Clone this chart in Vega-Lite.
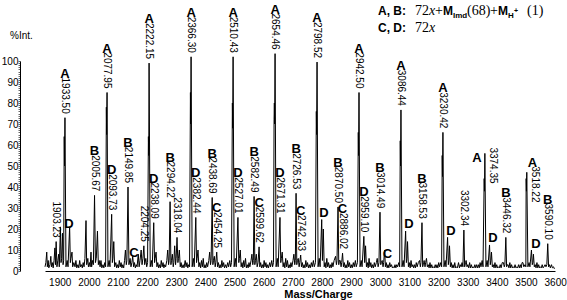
{
"$schema":"https://vega.github.io/schema/vega-lite/v6.json",
"width":510,"height":210,
"autosize":{"type":"none"},
"padding":{"left":45,"top":61,"right":12,"bottom":29},
"background":"white",
"config":{"view":{"stroke":null},"font":"Liberation Sans"},
"datasets":{
"spec":[
{"m":1865,"i":2},{"m":1868,"i":4},{"m":1871,"i":9},{"m":1873,"i":2},{"m":1876,"i":5},{"m":1878,"i":1.5},{"m":1882,"i":3},{"m":1885,"i":7},{"m":1887,"i":2},{"m":1890,"i":4},{"m":1893,"i":1.5},{"m":1896,"i":5},{"m":1899,"i":11},{"m":1901,"i":3},{"m":1903.23,"i":14},{"m":1906,"i":2},{"m":1909,"i":5},{"m":1912,"i":8},{"m":1914,"i":2},{"m":1918,"i":21},{"m":1920,"i":4},{"m":1922,"i":6},{"m":1925,"i":18},{"m":1927,"i":3},{"m":1929,"i":5},{"m":1931,"i":64},{"m":1932,"i":50},{"m":1933.5,"i":73},{"m":1937,"i":2},{"m":1941,"i":5},{"m":1944,"i":2},{"m":1949.5,"i":21},{"m":1952,"i":4},{"m":1954,"i":6},{"m":1957.6,"i":9},{"m":1960,"i":2},{"m":1964,"i":4},{"m":1968,"i":2},{"m":1971,"i":5},{"m":1974,"i":1.5},{"m":1978,"i":3},{"m":1981,"i":1.5},{"m":1984,"i":5},{"m":1987,"i":2},{"m":1990,"i":3},{"m":1993,"i":1.5},{"m":1996,"i":4},{"m":1999,"i":2},{"m":2002,"i":6},{"m":2005.7,"i":24},{"m":2008,"i":3},{"m":2012,"i":6},{"m":2014,"i":2},{"m":2018,"i":4},{"m":2020,"i":2},{"m":2022.8,"i":9},{"m":2025,"i":2},{"m":2028,"i":5},{"m":2031,"i":3},{"m":2035,"i":36},{"m":2038,"i":4},{"m":2041,"i":6},{"m":2045,"i":19},{"m":2048,"i":3},{"m":2051,"i":5},{"m":2054,"i":2},{"m":2057,"i":5},{"m":2060,"i":1.5},{"m":2064,"i":3},{"m":2067,"i":1.5},{"m":2070,"i":4},{"m":2073,"i":2},{"m":2075.5,"i":78},{"m":2076.5,"i":65},{"m":2077.95,"i":85},{"m":2081,"i":2},{"m":2085,"i":5},{"m":2088,"i":2},{"m":2093.73,"i":27},{"m":2096,"i":4},{"m":2098,"i":6},{"m":2101,"i":14},{"m":2104,"i":2},{"m":2108,"i":4},{"m":2111,"i":1.5},{"m":2114,"i":3},{"m":2117,"i":1.5},{"m":2120,"i":5},{"m":2123,"i":2},{"m":2126,"i":4},{"m":2129,"i":1.5},{"m":2132,"i":3},{"m":2135,"i":1.5},{"m":2138,"i":5},{"m":2141,"i":10},{"m":2144,"i":3},{"m":2146,"i":5},{"m":2149.85,"i":40},{"m":2153,"i":3},{"m":2157,"i":6},{"m":2160,"i":2},{"m":2163,"i":4},{"m":2166,"i":7},{"m":2169,"i":2},{"m":2172,"i":4},{"m":2175,"i":1.5},{"m":2178,"i":3},{"m":2181,"i":2},{"m":2185,"i":8},{"m":2188,"i":2},{"m":2191,"i":5},{"m":2195,"i":10},{"m":2198,"i":3},{"m":2201,"i":6},{"m":2204.25,"i":12},{"m":2207,"i":3},{"m":2211,"i":6},{"m":2214,"i":2},{"m":2217,"i":4},{"m":2219.8,"i":64},{"m":2221,"i":55},{"m":2222.15,"i":99},{"m":2226,"i":2},{"m":2230,"i":5},{"m":2233,"i":2},{"m":2238.09,"i":23},{"m":2241,"i":4},{"m":2243,"i":6},{"m":2246,"i":9},{"m":2249,"i":2},{"m":2252,"i":4},{"m":2255,"i":1.5},{"m":2258,"i":3},{"m":2261,"i":1.5},{"m":2264,"i":5},{"m":2267,"i":2},{"m":2270,"i":4},{"m":2273,"i":1.5},{"m":2276,"i":3},{"m":2279,"i":2},{"m":2283,"i":5},{"m":2286,"i":10},{"m":2289,"i":3},{"m":2291,"i":5},{"m":2294.22,"i":33},{"m":2297,"i":3},{"m":2299,"i":5},{"m":2302,"i":8},{"m":2305,"i":2},{"m":2307,"i":4},{"m":2310,"i":12},{"m":2313,"i":3},{"m":2315,"i":6},{"m":2318.04,"i":16},{"m":2321,"i":4},{"m":2323,"i":6},{"m":2326,"i":10},{"m":2329,"i":2},{"m":2332,"i":4},{"m":2335,"i":1.5},{"m":2339,"i":3},{"m":2342,"i":1.5},{"m":2346,"i":5},{"m":2349,"i":2},{"m":2352,"i":4},{"m":2355,"i":1.5},{"m":2358,"i":3},{"m":2361,"i":2},{"m":2364,"i":85},{"m":2365,"i":70},{"m":2366.3,"i":102},{"m":2370,"i":2},{"m":2374,"i":6},{"m":2377,"i":2},{"m":2382.44,"i":25.5},{"m":2385,"i":4},{"m":2387,"i":6},{"m":2390,"i":10},{"m":2393,"i":2},{"m":2396,"i":4},{"m":2399,"i":1.5},{"m":2402,"i":5},{"m":2405,"i":2},{"m":2408,"i":6},{"m":2411,"i":1.5},{"m":2414,"i":3},{"m":2417,"i":1.5},{"m":2420,"i":4},{"m":2423,"i":2},{"m":2427,"i":5},{"m":2430,"i":9},{"m":2433,"i":3},{"m":2435,"i":5},{"m":2438.69,"i":35},{"m":2441,"i":3},{"m":2443,"i":5},{"m":2446,"i":7},{"m":2449,"i":2},{"m":2451,"i":4},{"m":2454.25,"i":9},{"m":2457,"i":2},{"m":2460,"i":4},{"m":2463,"i":1.5},{"m":2466,"i":3},{"m":2469,"i":1.5},{"m":2472,"i":5},{"m":2475,"i":2},{"m":2478,"i":4},{"m":2481,"i":1.5},{"m":2485,"i":3},{"m":2488,"i":1.5},{"m":2492,"i":4},{"m":2495,"i":2},{"m":2499,"i":5},{"m":2502,"i":2},{"m":2505,"i":4},{"m":2508,"i":80},{"m":2509,"i":68},{"m":2510.43,"i":102},{"m":2514,"i":2},{"m":2518,"i":6},{"m":2521,"i":2},{"m":2527.01,"i":25.5},{"m":2530,"i":4},{"m":2532,"i":6},{"m":2535,"i":10},{"m":2538,"i":2},{"m":2541,"i":4},{"m":2544,"i":1.5},{"m":2547,"i":5},{"m":2550,"i":2},{"m":2553,"i":6},{"m":2556,"i":1.5},{"m":2559,"i":3},{"m":2562,"i":1.5},{"m":2565,"i":4},{"m":2568,"i":2},{"m":2572,"i":5},{"m":2575,"i":8},{"m":2578,"i":3},{"m":2580,"i":5},{"m":2582.49,"i":35.5},{"m":2585,"i":3},{"m":2587,"i":5},{"m":2590,"i":8},{"m":2593,"i":2},{"m":2596,"i":4},{"m":2599.62,"i":11.5},{"m":2602,"i":2},{"m":2605,"i":4},{"m":2608,"i":1.5},{"m":2611,"i":3},{"m":2614,"i":1.5},{"m":2617,"i":5},{"m":2620,"i":2},{"m":2623,"i":4},{"m":2626,"i":1.5},{"m":2629,"i":3},{"m":2632,"i":1.5},{"m":2636,"i":4},{"m":2639,"i":2},{"m":2643,"i":5},{"m":2646,"i":2},{"m":2649,"i":4},{"m":2651,"i":72},{"m":2652,"i":80},{"m":2653,"i":70},{"m":2654.46,"i":103.5},{"m":2658,"i":2},{"m":2662,"i":6},{"m":2665,"i":2},{"m":2671.31,"i":25.5},{"m":2674,"i":4},{"m":2676,"i":6},{"m":2679,"i":9},{"m":2682,"i":2},{"m":2685,"i":4},{"m":2688,"i":1.5},{"m":2691,"i":6},{"m":2694,"i":2},{"m":2697,"i":5},{"m":2700,"i":1.5},{"m":2703,"i":3},{"m":2706,"i":1.5},{"m":2709,"i":4},{"m":2712,"i":2},{"m":2716,"i":5},{"m":2719,"i":8},{"m":2722,"i":3},{"m":2724,"i":5},{"m":2726.53,"i":37},{"m":2729,"i":3},{"m":2731,"i":5},{"m":2734,"i":6},{"m":2737,"i":2},{"m":2739,"i":4},{"m":2742.33,"i":7.6},{"m":2745,"i":2},{"m":2748,"i":4},{"m":2751,"i":1.5},{"m":2754,"i":3},{"m":2757,"i":1.5},{"m":2760,"i":5},{"m":2763,"i":2},{"m":2766,"i":4},{"m":2769,"i":1.5},{"m":2772,"i":3},{"m":2775,"i":1.5},{"m":2779,"i":4},{"m":2782,"i":2},{"m":2786,"i":5},{"m":2789,"i":2},{"m":2793,"i":4},{"m":2796,"i":76},{"m":2797,"i":65},{"m":2798.52,"i":99.5},{"m":2802,"i":2},{"m":2806,"i":6},{"m":2809,"i":2},{"m":2814.5,"i":24.5},{"m":2817,"i":5},{"m":2820,"i":20},{"m":2823,"i":2},{"m":2826,"i":4},{"m":2829,"i":1.5},{"m":2832,"i":6},{"m":2835,"i":2},{"m":2838,"i":4},{"m":2841,"i":1.5},{"m":2844,"i":3},{"m":2847,"i":1.5},{"m":2850,"i":4},{"m":2853,"i":2},{"m":2857,"i":5},{"m":2862,"i":7},{"m":2865,"i":3},{"m":2867,"i":5},{"m":2870.5,"i":30.5},{"m":2873,"i":3},{"m":2875,"i":5},{"m":2878,"i":5},{"m":2881,"i":2},{"m":2883,"i":4},{"m":2886.02,"i":8.5},{"m":2889,"i":2},{"m":2892,"i":4},{"m":2895,"i":1.5},{"m":2898,"i":3},{"m":2901,"i":1.5},{"m":2904,"i":5},{"m":2907,"i":2},{"m":2910,"i":4},{"m":2913,"i":1.5},{"m":2916,"i":3},{"m":2919,"i":1.5},{"m":2923,"i":4},{"m":2926,"i":2},{"m":2930,"i":5},{"m":2933,"i":2},{"m":2937,"i":4},{"m":2940,"i":66},{"m":2941,"i":55},{"m":2942.5,"i":85},{"m":2946,"i":2},{"m":2950,"i":5},{"m":2953,"i":2},{"m":2959.1,"i":16.5},{"m":2962,"i":4},{"m":2965,"i":12},{"m":2968,"i":2},{"m":2971,"i":4},{"m":2974,"i":1.5},{"m":2977,"i":6},{"m":2980,"i":2},{"m":2983,"i":4},{"m":2986,"i":1.5},{"m":2989,"i":3},{"m":2992,"i":1.5},{"m":2995,"i":4},{"m":2998,"i":2},{"m":3002,"i":4},{"m":3005,"i":6},{"m":3008,"i":2},{"m":3011,"i":4},{"m":3014.49,"i":28},{"m":3017,"i":3},{"m":3019,"i":4},{"m":3022,"i":5},{"m":3025,"i":2},{"m":3027,"i":4},{"m":3030.5,"i":10},{"m":3033,"i":2},{"m":3036,"i":4},{"m":3039,"i":1.5},{"m":3042,"i":3},{"m":3045,"i":1.5},{"m":3048,"i":4},{"m":3051,"i":2},{"m":3054,"i":3},{"m":3057,"i":1.5},{"m":3060,"i":2},{"m":3063,"i":1.5},{"m":3066,"i":3},{"m":3069,"i":1.5},{"m":3072,"i":3},{"m":3075,"i":2},{"m":3079,"i":4},{"m":3082,"i":2},{"m":3084,"i":62},{"m":3085,"i":50},{"m":3086.44,"i":76.7},{"m":3090,"i":2},{"m":3094,"i":5},{"m":3097,"i":2},{"m":3102.4,"i":19},{"m":3105,"i":4},{"m":3107,"i":6},{"m":3109,"i":14},{"m":3112,"i":2},{"m":3115,"i":4},{"m":3118,"i":1.5},{"m":3121,"i":5},{"m":3124,"i":2},{"m":3127,"i":3},{"m":3130,"i":1.5},{"m":3133,"i":3},{"m":3136,"i":1.5},{"m":3139,"i":4},{"m":3142,"i":2},{"m":3146,"i":4},{"m":3150,"i":5},{"m":3153,"i":2},{"m":3155,"i":4},{"m":3158.53,"i":23},{"m":3161,"i":2},{"m":3164,"i":4},{"m":3166,"i":5},{"m":3169,"i":2},{"m":3171,"i":4},{"m":3174,"i":6},{"m":3177,"i":2},{"m":3180,"i":3},{"m":3183,"i":1.5},{"m":3186,"i":4},{"m":3189,"i":1.5},{"m":3192,"i":3},{"m":3195,"i":1.5},{"m":3198,"i":2},{"m":3201,"i":1.5},{"m":3204,"i":3},{"m":3207,"i":1.5},{"m":3210,"i":3},{"m":3213,"i":1.5},{"m":3216,"i":4},{"m":3219,"i":2},{"m":3223,"i":4},{"m":3226,"i":2},{"m":3228,"i":55},{"m":3229,"i":45},{"m":3230.42,"i":66},{"m":3234,"i":2},{"m":3238,"i":5},{"m":3241,"i":2},{"m":3246.4,"i":16},{"m":3249,"i":3},{"m":3251,"i":5},{"m":3253,"i":12},{"m":3256,"i":2},{"m":3259,"i":4},{"m":3262,"i":1.5},{"m":3265,"i":3},{"m":3268,"i":1.5},{"m":3271,"i":4},{"m":3274,"i":1.5},{"m":3277,"i":2},{"m":3280,"i":1.5},{"m":3284,"i":4},{"m":3287,"i":1.5},{"m":3290,"i":3},{"m":3293,"i":2},{"m":3296,"i":4},{"m":3299,"i":2},{"m":3302.34,"i":19.5},{"m":3305,"i":2},{"m":3308,"i":4},{"m":3310,"i":5},{"m":3313,"i":2},{"m":3316,"i":3},{"m":3319,"i":1.5},{"m":3322,"i":4},{"m":3325,"i":1.5},{"m":3328,"i":3},{"m":3331,"i":1.5},{"m":3334,"i":2},{"m":3337,"i":1.5},{"m":3340,"i":3},{"m":3343,"i":1.5},{"m":3346,"i":3},{"m":3349,"i":1.5},{"m":3352,"i":3},{"m":3355,"i":1.5},{"m":3358,"i":4},{"m":3361,"i":2},{"m":3365,"i":5},{"m":3368,"i":2},{"m":3372,"i":44},{"m":3373,"i":38},{"m":3374.35,"i":56},{"m":3378,"i":2},{"m":3382,"i":5},{"m":3385,"i":2},{"m":3390.3,"i":12.4},{"m":3393,"i":3},{"m":3395,"i":5},{"m":3397,"i":9},{"m":3400,"i":2},{"m":3403,"i":3},{"m":3406,"i":1.5},{"m":3409,"i":4},{"m":3412,"i":1.5},{"m":3415,"i":3},{"m":3418,"i":1.5},{"m":3421,"i":2},{"m":3424,"i":1.5},{"m":3427,"i":3},{"m":3430,"i":1.5},{"m":3434,"i":4},{"m":3438,"i":4},{"m":3441,"i":2},{"m":3443,"i":3},{"m":3446.32,"i":16},{"m":3449,"i":2},{"m":3452,"i":3},{"m":3454,"i":3},{"m":3457,"i":1.5},{"m":3460,"i":4},{"m":3463,"i":1.5},{"m":3466,"i":3},{"m":3469,"i":1.5},{"m":3472,"i":2},{"m":3475,"i":1.5},{"m":3478,"i":3},{"m":3481,"i":1.5},{"m":3484,"i":2},{"m":3487,"i":1.5},{"m":3490,"i":3},{"m":3493,"i":1.5},{"m":3496,"i":3},{"m":3499,"i":1.5},{"m":3502,"i":4},{"m":3505,"i":4},{"m":3508,"i":2},{"m":3512,"i":3},{"m":3515,"i":2},{"m":3516,"i":44},{"m":3517,"i":38},{"m":3518.22,"i":47},{"m":3522,"i":2},{"m":3526,"i":4},{"m":3529,"i":2},{"m":3534.2,"i":10},{"m":3537,"i":3},{"m":3539,"i":4},{"m":3541,"i":8},{"m":3544,"i":2},{"m":3547,"i":3},{"m":3550,"i":1.5},{"m":3553,"i":4},{"m":3556,"i":1.5},{"m":3559,"i":3},{"m":3562,"i":1.5},{"m":3565,"i":2},{"m":3568,"i":1.5},{"m":3571,"i":3},{"m":3574,"i":1.5},{"m":3577,"i":2},{"m":3581,"i":3},{"m":3584,"i":2},{"m":3587,"i":3},{"m":3590.1,"i":13},{"m":3593,"i":2},{"m":3596,"i":3},{"m":3599,"i":1.5},{"m":3603,"i":3},{"m":3606,"i":1.5},{"m":3610,"i":2},{"m":3613,"i":1}
],
"lab":[
{"m":1903.23,"i":14,"t":"1903.23","l":""},
{"m":1933.5,"i":73,"t":"1933.50","l":"A"},
{"m":2035,"i":36,"t":"2005.67","l":"B"},
{"m":2077.95,"i":85,"t":"2077.95","l":"A"},
{"m":2093.73,"i":27,"t":"2093.73","l":"D"},
{"m":2149.85,"i":40,"t":"2149.85","l":"B"},
{"m":2204.25,"i":12,"t":"2204.25","l":""},
{"m":2222.15,"i":99,"t":"2222.15","l":"A"},
{"m":2238.09,"i":23,"t":"2238.09","l":"D"},
{"m":2294.22,"i":33,"t":"2294.22","l":"B"},
{"m":2318.04,"i":16,"t":"2318.04","l":""},
{"m":2366.3,"i":102,"t":"2366.30","l":"A"},
{"m":2382.44,"i":25.5,"t":"2382.44","l":"D"},
{"m":2438.69,"i":35,"t":"2438.69","l":"B"},
{"m":2454.25,"i":9,"t":"2454.25","l":"C"},
{"m":2510.43,"i":102,"t":"2510.43","l":"A"},
{"m":2527.01,"i":25.5,"t":"2527.01","l":"D"},
{"m":2582.49,"i":35.5,"t":"2582.49","l":"B"},
{"m":2599.62,"i":11.5,"t":"2599.62","l":"C"},
{"m":2654.46,"i":103.5,"t":"2654.46","l":"A"},
{"m":2671.31,"i":25.5,"t":"2671.31","l":"D"},
{"m":2726.53,"i":37,"t":"2726.53","l":"B"},
{"m":2742.33,"i":7.6,"t":"2742.33","l":"C"},
{"m":2798.52,"i":99.5,"t":"2798.52","l":"A"},
{"m":2870.5,"i":30.5,"t":"2870.50","l":"B"},
{"m":2886.02,"i":8.5,"t":"2886.02","l":"C"},
{"m":2942.5,"i":85,"t":"2942.50","l":"A"},
{"m":2959.1,"i":16.5,"t":"2959.10","l":"D"},
{"m":3014.49,"i":28,"t":"3014.49","l":"B"},
{"m":3086.44,"i":76.7,"t":"3086.44","l":"A"},
{"m":3158.53,"i":23,"t":"3158.53","l":"B"},
{"m":3230.42,"i":66,"t":"3230.42","l":"A"},
{"m":3302.34,"i":19.5,"t":"3302.34","l":""},
{"m":3446.32,"i":16,"t":"3446.32","l":"B"},
{"m":3590.1,"i":13,"t":"3590.10","l":"B"}
],
"side":[
{"m":3374.35,"i":56,"t":"3374.35"},
{"m":3518.22,"i":47,"t":"3518.22"}
],
"let":[
{"m":1947.4,"i":20.5,"l":"D"},
{"m":2170.4,"i":6.7,"l":"C"},
{"m":2822.4,"i":25.7,"l":"D"},
{"m":3040.2,"i":6.2,"l":"C"},
{"m":3114,"i":20.5,"l":"D"},
{"m":3258.2,"i":17.1,"l":"D"},
{"m":3402.3,"i":13.8,"l":"D"},
{"m":3549.8,"i":11,"l":"D"},
{"m":3347.4,"i":51.9,"l":"A"},
{"m":3537.8,"i":49.5,"l":"A"}
],
"legBold":[
{"m":3007.6,"i":121.7,"t":"A, B:"},
{"m":3007.6,"i":113.6,"t":"C, D:"},
{"m":3230.7,"i":121.7,"t":"M"},
{"m":3419.4,"i":121.7,"t":"M"}
],
"legSub":[
{"m":3265,"i":120.3,"t":"Imd"},
{"m":3453.7,"i":120.3,"t":"H"}
],
"legSup":[
{"m":3474.3,"i":122.9,"t":"+"}
],
"legSerif":[
{"m":3134.6,"i":121.7,"t":"72"},
{"m":3203.3,"i":121.7,"t":"+"},
{"m":3313.1,"i":121.7,"t":"(68)"},
{"m":3392,"i":121.7,"t":"+"},
{"m":3519,"i":121.7,"t":"(1)"},
{"m":3134.6,"i":113.6,"t":"72"}
],
"legItal":[
{"m":3182.6,"i":121.7,"t":"x"},
{"m":3182.6,"i":113.6,"t":"x"}
]
},
"encoding":{
  "x":{"field":"m","type":"quantitative","scale":{"domain":[1865,3615],"nice":false,"zero":false},
   "axis":{"title":"Mass/Charge","values":[1900,2000,2100,2200,2300,2400,2500,2600,2700,2800,2900,3000,3100,3200,3300,3400,3500,3600],"format":"d","labelFontSize":10,"labelColor":"#000","labelOffset":4.5,"labelPadding":6,"labelFlush":false,"labelOverlap":false,"ticks":false,"grid":false,"domainColor":"#000","domainWidth":1,"titleFontSize":11,"titleFontWeight":"bold","titleColor":"#000","titleX":273,"titleY":26,"titleAlign":"center","titleBaseline":"alphabetic"}},
  "y":{"field":"i","type":"quantitative","scale":{"domain":[0,100],"nice":false},
   "axis":{"title":"%Int.","values":[0,1,2,3,4,5,6,7,8,9,10,11,12,13,14,15,16,17,18,19,20,21,22,23,24,25,26,27,28,29,30,31,32,33,34,35,36,37,38,39,40,41,42,43,44,45,46,47,48,49,50,51,52,53,54,55,56,57,58,59,60,61,62,63,64,65,66,67,68,69,70,71,72,73,74,75,76,77,78,79,80,81,82,83,84,85,86,87,88,89,90,91,92,93,94,95,96,97,98,99,100],"labelExpr":"datum.value % 10 === 0 ? datum.label : ''","labelOverlap":false,"labelFontSize":10,"labelColor":"#000","labelPadding":0,"offset":25,"tickSize":2,"tickColor":"#000","tickWidth":0.6,"grid":false,"domainColor":"#000","domainWidth":1,"titleAngle":0,"titleX":1,"titleY":-26,"titleAlign":"center","titleBaseline":"middle","titleFontWeight":"normal","titleFontSize":10,"titleColor":"#000"}}
},
"layer":[
{"data":{"name":"spec"},
 "mark":{"type":"line","color":"#000","strokeWidth":1}},
{"data":{"name":"lab"},
 "mark":{"type":"text","angle":90,"align":"right","baseline":"middle","dx":-4,"fontSize":10,"font":"Liberation Sans","color":"#000"},
 "encoding":{"text":{"field":"t"}}},
{"data":{"name":"lab"},
 "mark":{"type":"text","align":"center","baseline":"alphabetic","dy":-40,"fontSize":13,"fontWeight":"bold","font":"Liberation Sans","color":"#000"},
 "encoding":{"text":{"field":"l"}}},
{"data":{"name":"side"},
 "mark":{"type":"text","angle":90,"align":"left","baseline":"middle","dx":-6,"dy":-8,"fontSize":10,"font":"Liberation Sans","color":"#000"},
 "encoding":{"text":{"field":"t"}}},
{"data":{"name":"let"},
 "mark":{"type":"text","align":"center","baseline":"alphabetic","fontSize":13,"fontWeight":"bold","font":"Liberation Sans","color":"#000"},
 "encoding":{"text":{"field":"l"}}},
{"data":{"name":"legBold"},
 "mark":{"type":"text","align":"left","baseline":"alphabetic","fontSize":12,"fontWeight":"bold","font":"Liberation Sans","color":"#000"},
 "encoding":{"text":{"field":"t"}}},
{"data":{"name":"legSub"},
 "mark":{"type":"text","align":"left","baseline":"alphabetic","fontSize":8,"fontWeight":"bold","font":"Liberation Sans","color":"#000"},
 "encoding":{"text":{"field":"t"}}},
{"data":{"name":"legSup"},
 "mark":{"type":"text","align":"left","baseline":"alphabetic","fontSize":7,"fontWeight":"bold","font":"Liberation Sans","color":"#000"},
 "encoding":{"text":{"field":"t"}}},
{"data":{"name":"legSerif"},
 "mark":{"type":"text","align":"left","baseline":"alphabetic","fontSize":14,"font":"Liberation Serif","color":"#000"},
 "encoding":{"text":{"field":"t"}}},
{"data":{"name":"legItal"},
 "mark":{"type":"text","align":"left","baseline":"alphabetic","fontSize":14,"fontStyle":"italic","font":"Liberation Serif","color":"#000"},
 "encoding":{"text":{"field":"t"}}}
]
}
